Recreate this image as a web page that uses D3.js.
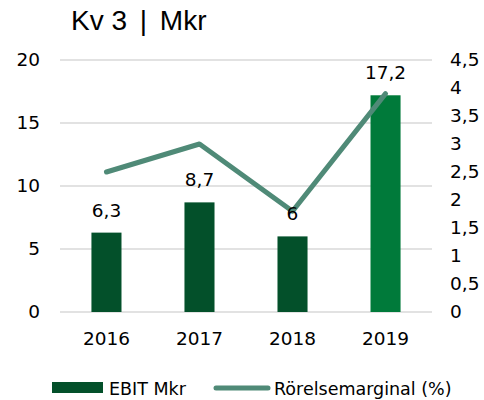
<!DOCTYPE html>
<html><head><meta charset="utf-8">
<script src="https://cdn.jsdelivr.net/npm/d3@7"></script>
<style>body{margin:0;background:#fff}svg{display:block;font-family:"DejaVu Sans",sans-serif}</style>
</head><body><svg id="c" width="484" height="400"></svg>
<script>
const categories = ["2016","2017","2018","2019"];
const ebit = [6.3, 8.7, 6, 17.2];
const ebitLabels = ["6,3","8,7","6","17,2"];
const margin = [2.5, 3.0, 1.8, 3.9];
const leftTicks = [0,5,10,15,20];
const rightTicks = [0,0.5,1,1.5,2,2.5,3,3.5,4,4.5];
const titleParts = ["Kv 3", " | Mkr"];
const legendLabels = ["EBIT Mkr","Rörelsemarginal (%)"];

const svg = d3.select("#c");
const L=60,R=432,T=60,B=312;
const F="DejaVu Sans, sans-serif";
const x = d3.scaleBand().domain(categories).range([L,R]).paddingInner(0.677).paddingOuter(0.338);
const yL = d3.scaleLinear().domain([0,20]).range([B,T]);
const yR = d3.scaleLinear().domain([0,4.5]).range([B,T]);
const fmt = v => String(v).replace(".",",");
const dark="#03502a", light="#007a3a", lineC="#4f8a77";

const tt = svg.append("text").attr("x",71).attr("y",30).attr("font-size",28).attr("fill","#000")
 .attr("font-family","Liberation Sans, Arial, sans-serif").style("white-space","pre");
tt.append("tspan").text(titleParts[0]);
tt.append("tspan").style("word-spacing","5px").text(titleParts[1]);

// gridlines
svg.append("g").selectAll("line").data(leftTicks).join("line")
 .attr("x1",L).attr("x2",R).attr("y1",d=>yL(d)).attr("y2",d=>yL(d))
 .attr("stroke","#d9d9d9").attr("stroke-width",1.5);

// left axis
const ax = d3.axisLeft(yL).tickValues(leftTicks).tickSize(0).tickPadding(20);
const gl = svg.append("g").attr("transform",`translate(${L},0)`).call(ax);
gl.select(".domain").remove();
gl.selectAll("text").attr("font-size",18.5).attr("fill","#000").attr("font-family",F);

// right axis
const axR = d3.axisRight(yR).tickValues(rightTicks).tickSize(0).tickPadding(18).tickFormat(fmt);
const gr = svg.append("g").attr("transform",`translate(${R},0)`).call(axR);
gr.select(".domain").remove();
gr.selectAll("text").attr("font-size",18.5).attr("fill","#000").attr("font-family",F);

// x axis
const axX = d3.axisBottom(x).tickSize(0).tickPadding(20);
const gx = svg.append("g").attr("transform",`translate(0,${B})`).call(axX);
gx.select(".domain").remove();
gx.selectAll("text").attr("font-size",18.5).attr("fill","#000").attr("font-family",F);

// bars
svg.append("g").selectAll("rect").data(ebit).join("rect")
 .attr("x",(d,i)=>x(categories[i])).attr("width",x.bandwidth())
 .attr("y",d=>yL(d)).attr("height",d=>B-yL(d))
 .attr("fill",(d,i)=>i===3?light:dark);

// line
const line = d3.line().x((d,i)=>x(categories[i])+x.bandwidth()/2).y(d=>yR(d));
svg.append("path").datum(margin).attr("d",line).attr("fill","none")
 .attr("stroke",lineC).attr("stroke-width",5).attr("stroke-linejoin","round").attr("stroke-linecap","round");

// data labels
svg.append("g").selectAll("text").data(ebit).join("text")
 .attr("x",(d,i)=>x(categories[i])+x.bandwidth()/2).attr("y",d=>yL(d)-16)
 .attr("text-anchor","middle").attr("font-size",18.5).attr("fill","#000").attr("font-family",F)
 .text((d,i)=>ebitLabels[i]);

// legend
const lg = svg.append("g");
lg.append("rect").attr("x",52).attr("y",382).attr("width",51).attr("height",11).attr("fill",dark);
lg.append("text").attr("x",109).attr("y",395).attr("font-size",17.5).attr("fill","#000").attr("font-family",F).text(legendLabels[0]);
lg.append("line").attr("x1",216).attr("x2",268).attr("y1",388).attr("y2",388)
 .attr("stroke",lineC).attr("stroke-width",5).attr("stroke-linecap","round");
lg.append("text").attr("x",274).attr("y",395).attr("font-size",17.5).attr("fill","#000").attr("font-family",F).text(legendLabels[1]);
</script></body></html>
